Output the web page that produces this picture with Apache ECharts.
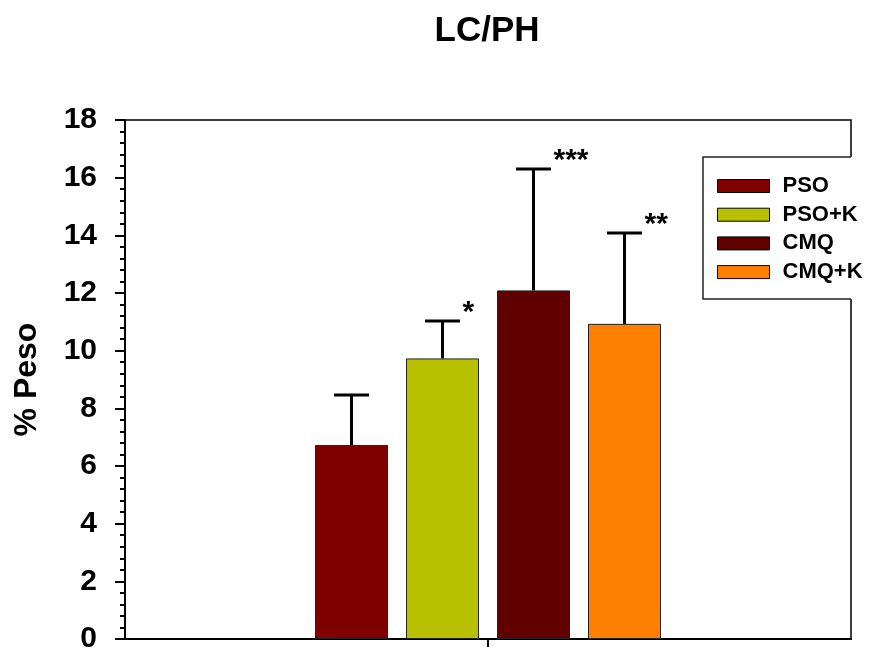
<!DOCTYPE html>
<html>
<head>
<meta charset="utf-8">
<script src="https://cdn.jsdelivr.net/npm/echarts@6/dist/echarts.min.js"></script>
<style>html,body{margin:0;padding:0;background:#fff}#c{width:869px;height:651px}</style>
</head>
<body>
<div id="c"></div>
<script>
// ---- data ----
const categories = [''];
const seriesNames = ['PSO', 'PSO+K', 'CMQ', 'CMQ+K'];
const means = [6.73, 9.73, 12.09, 10.93];
const sds = [1.73, 1.30, 4.21, 3.15];
const stars = ['', '*', '***', '**'];
const colors = ['#800000', '#b9c000', '#600000', '#ff8000'];
const yTicks = [0, 2, 4, 6, 8, 10, 12, 14, 16, 18];

// ---- layout constants ----
const FONT = '"Liberation Sans", Arial, Helvetica, sans-serif';
const BAR_W = 73;
const BAR_GAP = 18;

const chart = echarts.init(document.getElementById('c'), null, {renderer: 'canvas'});

const barSeries = seriesNames.map((name, i) => ({
  name: name,
  type: 'bar',
  data: [means[i]],
  barWidth: BAR_W,
  barGap: (BAR_GAP / BAR_W * 100) + '%',
  itemStyle: {color: colors[i], borderColor: '#222', borderWidth: 1},
  z: 2
}));

const errData = means.map((m, i) => [0, i, m, sds[i]]);

const errSeries = {
  type: 'custom',
  name: 'err',
  data: errData,
  encode: {x: 0, y: 2},
  z: 5,
  renderItem: function (params, api) {
    const i = api.value(1);
    const mean = api.value(2);
    const sd = api.value(3);
    const star = stars[i];
    const n = seriesNames.length;
    const cx = api.coord([0, 0])[0] + (i - (n - 1) / 2) * (BAR_W + BAR_GAP);
    const yTop = api.coord([0, mean])[1];
    const yErr = api.coord([0, mean + sd])[1];
    const capHalf = 17.5;
    const style = {stroke: '#000', lineWidth: 3};
    const children = [
      {type: 'line', shape: {x1: cx, y1: yTop, x2: cx, y2: yErr}, style: style},
      {type: 'line', shape: {x1: cx - capHalf, y1: yErr, x2: cx + capHalf, y2: yErr}, style: style}
    ];
    if (star) {
      children.push({
        type: 'text',
        style: {
          text: star, x: cx + 20, y: yErr - 8,
          font: 'bold 30px ' + FONT, fill: '#000',
          textAlign: 'left', textVerticalAlign: 'middle'
        }
      });
    }
    return {type: 'group', children: children};
  }
};

const option = {
  animation: false,
  backgroundColor: '#fff',
  title: {
    text: 'LC/PH',
    left: 482,
    textAlign: 'center',
    top: 9,
    textStyle: {fontFamily: FONT, fontWeight: 'bold', fontSize: 35, color: '#000'}
  },
  grid: {
    left: 125, right: 18, top: 120, bottom: 12,
    outerBoundsMode: 'none',
    containLabel: false,
    show: true, borderColor: '#000', borderWidth: 1.5, backgroundColor: 'transparent'
  },
  legend: {
    data: seriesNames,
    orient: 'vertical',
    left: 717,
    top: 175,
    itemWidth: 52,
    itemHeight: 13,
    itemGap: 6.7,
    icon: 'rect',
    padding: 0,
    itemStyle: {borderColor: '#000', borderWidth: 1},
    textStyle: {fontFamily: FONT, fontWeight: 'bold', fontSize: 22, color: '#000', padding: [0, 0, 0, 8]},
    z: 20
  },
  xAxis: {
    type: 'category',
    data: categories,
    axisLine: {lineStyle: {color: '#000', width: 2}},
    axisTick: {show: true, alignWithLabel: true, length: 8, lineStyle: {color: '#000', width: 2}},
    axisLabel: {show: false},
    splitLine: {show: false}
  },
  yAxis: {
    type: 'value',
    min: yTicks[0],
    max: yTicks[yTicks.length - 1],
    interval: 2,
    name: '% Peso',
    nameLocation: 'middle',
    nameRotate: 90,
    nameGap: 82,
    nameTextStyle: {fontFamily: FONT, fontWeight: 'bold', fontSize: 32, color: '#000'},
    axisLine: {show: true, lineStyle: {color: '#000', width: 2}},
    axisTick: {show: true, length: 10, lineStyle: {color: '#000', width: 2}},
    minorTick: {show: true, splitNumber: 5, length: 5, lineStyle: {color: '#000', width: 2}},
    axisLabel: {fontFamily: FONT, fontWeight: 'bold', fontSize: 30, color: '#000', margin: 28},
    splitLine: {show: false}
  },
  graphic: [
    {type: 'rect', shape: {x: 703, y: 157, width: 151, height: 142}, style: {fill: '#fff'}, z: 10},
    {type: 'polyline', shape: {points: [[851, 157], [703, 157], [703, 299], [851, 299]]},
     style: {stroke: '#222', lineWidth: 1.5, fill: null}, z: 11}
  ],
  series: barSeries.concat([errSeries])
};

chart.setOption(option);
</script>
</body>
</html>
